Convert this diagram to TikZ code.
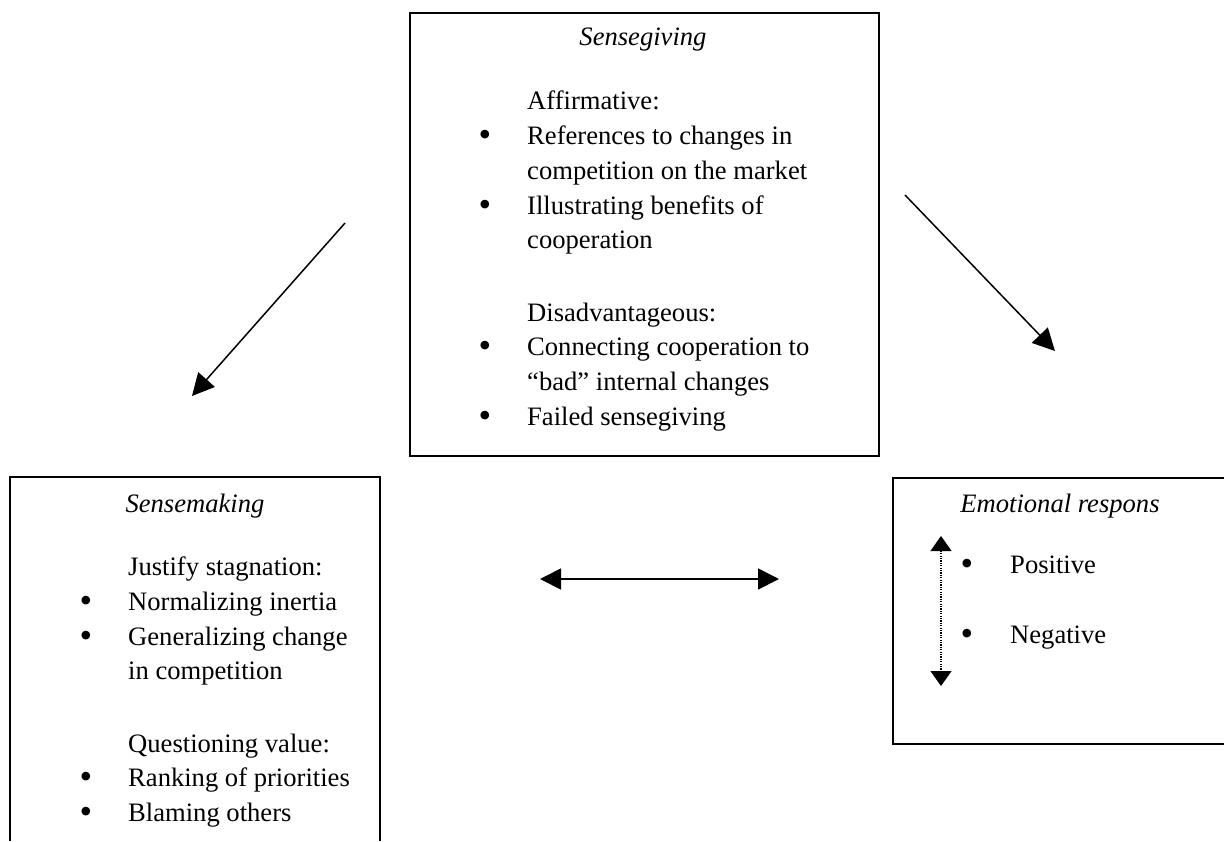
\documentclass[tikz,border=0pt]{standalone}
\usepackage{fontspec}
\setmainfont{Liberation Serif}
\usetikzlibrary{arrows.meta}
\begin{document}
\begin{tikzpicture}[x=1pt,y=-1pt,
  txt/.style={anchor=base west,inner sep=0pt,font=\fontsize{26.6}{34}\selectfont},
  ttl/.style={anchor=base,inner sep=0pt,font=\fontsize{26.6}{34}\selectfont\itshape},
  bul/.style={anchor=base,inner sep=0pt,font=\fontsize{36}{34}\selectfont},
  boxline/.style={line width=1.8pt},
  arr/.style={line width=1.5pt,-{Triangle[length=22pt,width=22pt]}},
  dbl/.style={line width=1.8pt,{Triangle[length=21pt,width=21pt]}-{Triangle[length=21pt,width=21pt]}},
  vdbl/.style={line width=1.1pt,dash pattern=on 1.2pt off 1.2pt,{Triangle[length=15pt,width=21pt]}-{Triangle[length=15pt,width=21pt]}}]
\useasboundingbox (0,0) rectangle (1224,841);
\fill[white] (0,0) rectangle (1224,841);

% Top box
\node[draw,boxline,minimum width=469pt,minimum height=443pt,anchor=north west,inner sep=0pt] (give) at (409,12) {};
\node[ttl] (t1) at (643,45) {Sensegiving};
\node[txt] (a0) at (527,109) {Affirmative:};
\node[bul] (b1) at (485,146) {•};
\node[txt] (a1) at (527,144) {References to changes in};
\node[txt] (a2) at (527,179) {competition on the market};
\node[bul] (b2) at (485,216) {•};
\node[txt] (a3) at (527,214) {Illustrating benefits of};
\node[txt] (a4) at (527,248) {cooperation};
\node[txt] (d0) at (527,321) {Disadvantageous:};
\node[bul] (b3) at (485,357) {•};
\node[txt] (d1) at (527,355) {Connecting cooperation to};
\node[txt] (d2) at (527,390) {“bad” internal changes};
\node[bul] (b4) at (485,427) {•};
\node[txt] (d3) at (527,425) {Failed sensegiving};

% Left box (open at bottom)
\coordinate (lbl) at (10,841);
\coordinate (ltl) at (10,477);
\coordinate (ltr) at (380,477);
\coordinate (lbr) at (380,841);
\draw[boxline] (lbl) -- (ltl) -- (ltr) -- (lbr);
\node[ttl] (t2) at (195,512) {Sensemaking};
\node[txt] (j0) at (128,575) {Justify stagnation:};
\node[bul] (b5) at (86,612) {•};
\node[txt] (j1) at (128,610) {Normalizing inertia};
\node[bul] (b6) at (86,647) {•};
\node[txt] (j2) at (128,645) {Generalizing change};
\node[txt] (j3) at (128,679) {in competition};
\node[txt] (q0) at (128,752) {Questioning value:};
\node[bul] (b7) at (86,788) {•};
\node[txt] (q1) at (128,786) {Ranking of priorities};
\node[bul] (b8) at (86,823) {•};
\node[txt] (q2) at (128,821) {Blaming others};

% Right box (open at right)
\coordinate (rtr) at (1224,478);
\coordinate (rtl) at (893,478);
\coordinate (rbl) at (893,744);
\coordinate (rbr) at (1224,744);
\draw[boxline] (rtr) -- (rtl) -- (rbl) -- (rbr);
\node[ttl] (t3) at (1060,512) {Emotional respons};
\node[bul] (b9) at (967,575) {•};
\node[txt] (p1) at (1010,573) {Positive};
\node[bul] (b10) at (967,645) {•};
\node[txt] (n1) at (1010,643) {Negative};
\coordinate (vtop) at (941,536);
\coordinate (vbot) at (941,686);
\draw[vdbl] (vtop) -- (vbot);

% Connectors
\coordinate (la0) at (345,223);
\coordinate (la1) at (192,396);
\draw[arr] (la0) -- (la1);
\coordinate (ra0) at (905,195);
\coordinate (ra1) at (1055,351);
\draw[arr] (ra0) -- (ra1);
\coordinate (h0) at (540,579);
\coordinate (h1) at (779,579);
\draw[dbl] (h0) -- (h1);
\end{tikzpicture}
\end{document}
